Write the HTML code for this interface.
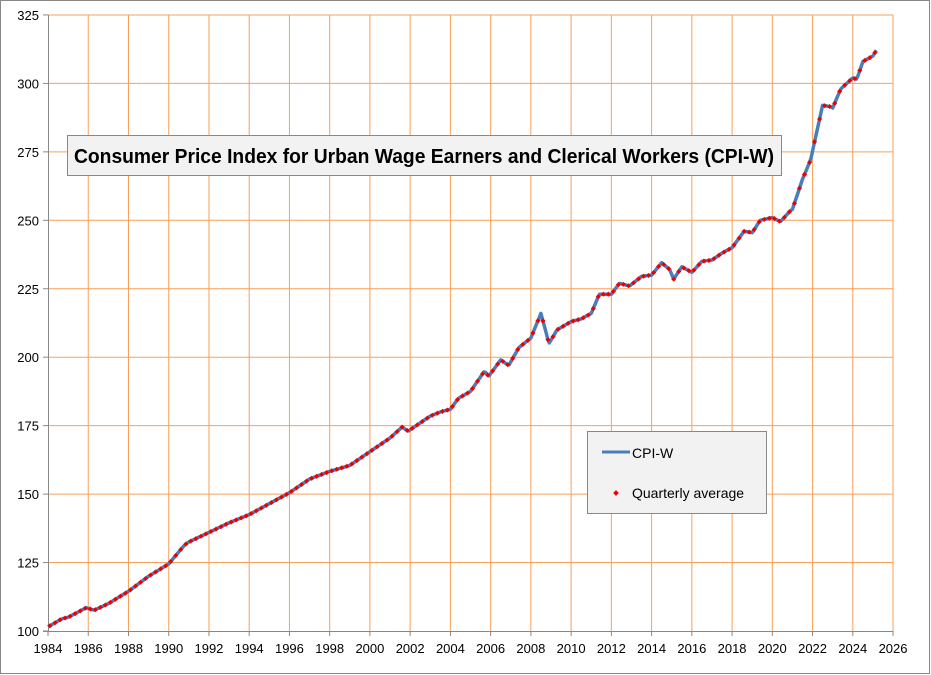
<!DOCTYPE html>
<html><head><meta charset="utf-8"><style>
body{margin:0;background:#fff}
svg{display:block;font-family:"Liberation Sans",sans-serif}
</style></head><body>
<svg id="s" width="931" height="675" xmlns="http://www.w3.org/2000/svg">
<rect x="0.5" y="0.5" width="929" height="673" fill="#fff" stroke="#888"/>
<g id="grid"></g>
<g id="data"></g>
<rect x="67.5" y="135.5" width="714" height="40" fill="#f2f2f2" stroke="#888"/>
<text x="74" y="163" font-size="20" font-weight="bold" fill="#000" textLength="700" lengthAdjust="spacingAndGlyphs">Consumer Price Index for Urban Wage Earners and Clerical Workers (CPI-W)</text>
<rect x="587.5" y="431.5" width="179" height="82" fill="#f2f2f2" stroke="#888"/>
<line x1="602" y1="452" x2="630" y2="452" stroke="#4a7ebb" stroke-width="3"/>
<text x="632" y="458" font-size="14">CPI-W</text>
<rect x="614" y="491" width="4" height="4" fill="#e00" transform="rotate(45 616 493)"/>
<text x="632" y="498" font-size="14">Quarterly average</text>
</svg>
<script>
const X=y=>48+(y-1984)*20.12, Y=v=>631-(v-100)*2.738;
let g='';
for(let yr=1986;yr<=2026;yr+=2)g+=`<line x1="${X(yr)}" y1="15" x2="${X(yr)}" y2="631" stroke="#f7a05a" stroke-width="1"/>`;
for(let v=125;v<=325;v+=25)g+=`<line x1="48" y1="${Y(v)}" x2="893" y2="${Y(v)}" stroke="#f7a05a" stroke-width="1"/>`;
g+=`<line x1="48.5" y1="15" x2="48.5" y2="631" stroke="#888"/><line x1="43" y1="631.5" x2="893" y2="631.5" stroke="#888"/>`;
for(let yr=1984;yr<=2026;yr+=2){g+=`<line x1="${X(yr)}" y1="631" x2="${X(yr)}" y2="636" stroke="#888"/><text x="${X(yr)}" y="653" font-size="13" text-anchor="middle">${yr}</text>`;}
for(let v=100;v<=325;v+=25){g+=`<line x1="43" y1="${Y(v)}" x2="48" y2="${Y(v)}" stroke="#888"/><text x="39" y="${Y(v)+5}" font-size="13" text-anchor="end">${v}</text>`;}
document.getElementById('grid').innerHTML=g;
const k=[[1984,101.5],[1984.7,104.5],[1985,105],[1985.9,108.5],[1986.3,107.6],[1987,110],[1988,114.5],[1989,120],[1990,124.5],[1990.8,131.5],[1991,132.5],[1992,136],[1993,139.5],[1994,142.5],[1995,146.5],[1996,150.5],[1997,155.5],[1998,158.3],[1999,160.5],[2000,165.5],[2001,170.5],[2001.6,174.5],[2001.9,173],[2002.5,176],[2003,178.5],[2003.5,180],[2004,181],[2004.4,185],[2005,187.5],[2005.7,195],[2005.9,193],[2006.5,199],[2006.9,197],[2007.4,203.5],[2008,207],[2008.5,216],[2008.9,205],[2009.3,210],[2010,213],[2010.5,214],[2011,216],[2011.4,223],[2012,223],[2012.4,227],[2012.9,226],[2013.5,229.5],[2014,230],[2014.5,234.5],[2014.9,232],[2015.1,228.5],[2015.5,233],[2016,231],[2016.5,235],[2017,235.5],[2017.5,238],[2018,240],[2018.6,246],[2019,245.5],[2019.4,250],[2020,251],[2020.4,249.5],[2020.9,253.5],[2021,254],[2021.5,265],[2021.9,272],[2022.5,292],[2022.9,291.5],[2023,291],[2023.4,298],[2024,302],[2024.2,301.5],[2024.5,308],[2025,310],[2025.2,312.5]];
function v(t){for(let i=0;i<k.length-1;i++){if(t<=k[i+1][0]){const a=k[i],b=k[i+1],f=(t-a[0])/(b[0]-a[0]);return a[1]+(b[1]-a[1])*f;}}return k[k.length-1][1];}
let p='',d='';
for(let t=1984;t<=2025.2;t+=1/12){p+=(p?'L':'M')+X(t).toFixed(1)+','+Y(v(t)).toFixed(1);}
for(let t=1984.1;t<=2025.1;t+=0.25){const x=X(t),y=Y(v(t));d+=`<rect x="${x-1.8}" y="${y-1.8}" width="3.6" height="3.6" fill="#e00" transform="rotate(45 ${x} ${y})"/>`;}
document.getElementById('data').innerHTML=`<path d="${p}" fill="none" stroke="#4a7ebb" stroke-width="3.5" stroke-linejoin="round"/>`+d;
</script>
</body></html>
